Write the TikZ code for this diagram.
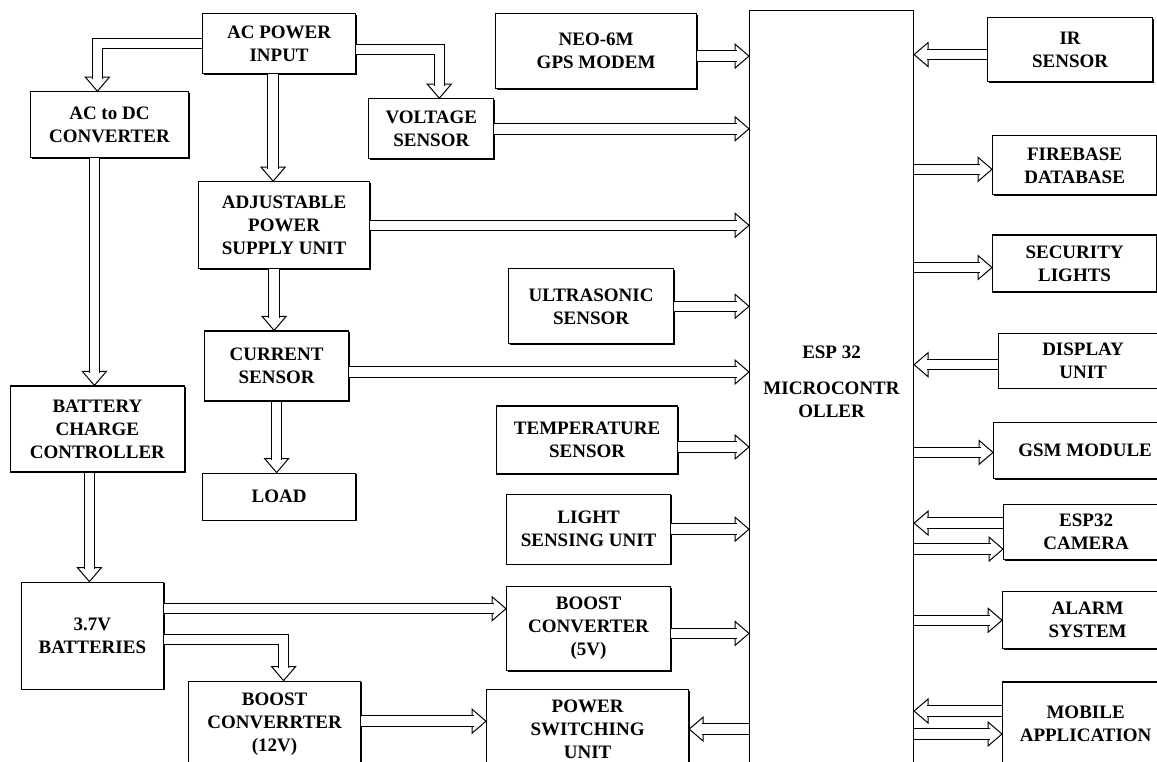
\documentclass[tikz,border=0pt]{standalone}
\usepackage{fontspec}
\setmainfont{Liberation Serif}
\usetikzlibrary{positioning, shadows, decorations.markings}

\begin{document}
\begin{tikzpicture}[
  x=1pt, y=-1pt,
  lbl/.style={font=\fontsize{19}{23}\selectfont\bfseries, align=center},
  blk/.style={lbl, draw, line width=1.2pt, fill=white, inner sep=2pt,
              drop shadow={shadow xshift=1.2pt, shadow yshift=-1.2pt, fill=black, opacity=1}},
  core/.style={draw, line width=1.1pt, fill=white},
  flow/.style={
    postaction={decorate, decoration={markings, mark=at position 1 with {
      \draw[line width=1pt, fill=white] (0,0) -- (-14pt,12pt) -- (-14pt,-12pt) -- cycle;}}},
    postaction={draw, line width=1pt, double=white, double distance=9.5pt, shorten >=12.5pt}}
]
  \useasboundingbox (0,0) rectangle (1157,761);
  \clip (0,0) rectangle (1157,761);

  \node[blk, minimum width=153pt, minimum height=60pt, anchor=north west] (acin) at (202,13) {AC POWER\\INPUT};
  \node[blk, minimum width=158pt, minimum height=66pt, below left=17pt and 13pt of acin] (acdc) {AC to DC\\CONVERTER};
  \node[blk, minimum width=125pt, minimum height=60pt, below right=24pt and 12pt of acin] (volt) {VOLTAGE\\SENSOR};
  \node[blk, minimum width=171pt, minimum height=87pt, below=107pt of acin.south west, anchor=north west, xshift=-4pt] (adj) {ADJUSTABLE\\POWER\\SUPPLY UNIT};
  \node[blk, minimum width=144pt, minimum height=70pt, below=61pt of adj.south west, anchor=north west, xshift=6pt] (cur) {CURRENT\\SENSOR};
  \node[blk, minimum width=153pt, minimum height=47pt, below=71pt of cur.south west, anchor=north west, xshift=-2pt] (load) {LOAD};
  \node[blk, minimum width=174pt, minimum height=86pt, below=227pt of acdc.south west, anchor=north west, xshift=-20pt] (bcc) {BATTERY\\CHARGE\\CONTROLLER};
  \node[blk, minimum width=142pt, minimum height=107pt, below=109pt of bcc.south west, anchor=north west, xshift=11pt] (bat) {3.7V\\BATTERIES};
  \node[blk, minimum width=172pt, minimum height=86pt, below right=99pt and 24pt of bat.north east] (b12) {BOOST\\CONVERRTER\\(12V)};

  \node[blk, minimum width=201pt, minimum height=75pt, anchor=north west] (gps) at (495,13) {NEO-6M\\GPS MODEM};
  \node[blk, minimum width=165pt, minimum height=75pt, below=179pt of gps.south west, anchor=north west, xshift=13pt] (ultra) {ULTRASONIC\\SENSOR};
  \node[blk, minimum width=181pt, minimum height=68pt, below=61pt of ultra.south west, anchor=north west, xshift=-12pt] (temp) {TEMPERATURE\\SENSOR};
  \node[blk, minimum width=164pt, minimum height=70pt, below=19pt of temp.south west, anchor=north west, xshift=10pt] (light) {LIGHT\\SENSING UNIT};
  \node[blk, minimum width=164pt, minimum height=84pt, below=21pt of light.south west, anchor=north west] (b5) {BOOST\\CONVERTER\\(5V)};
  \node[blk, minimum width=202pt, minimum height=79pt, below=18pt of b5.south west, anchor=north west, xshift=-20pt] (psu) {POWER\\SWITCHING\\UNIT};

  \node[core, minimum width=164pt, minimum height=790pt, anchor=north west] (mcu) at (749,10) {};
  \node[lbl] (mcutxt) at (mcu.north |- 0,382) {ESP 32\\[13pt]MICROCONTR\\OLLER};

  \node[blk, minimum width=165pt, minimum height=64pt, anchor=north west] (ir) at (987,17) {IR\\SENSOR};
  \node[blk, minimum width=164pt, minimum height=59pt, below=53pt of ir.south west, anchor=north west, xshift=5pt] (fb) {FIREBASE\\DATABASE};
  \node[blk, minimum width=164pt, minimum height=57pt, below=39pt of fb.south west, anchor=north west] (sec) {SECURITY\\LIGHTS};
  \node[blk, minimum width=169pt, minimum height=55pt, below=40pt of sec.south west, anchor=north west, xshift=6pt] (disp) {DISPLAY\\UNIT};
  \node[blk, minimum width=183pt, minimum height=56pt, below=33pt of disp.south west, anchor=north west, xshift=-5pt] (gsm) {GSM MODULE};
  \node[blk, minimum width=165pt, minimum height=55pt, below=25pt of gsm.south west, anchor=north west, xshift=10pt] (cam) {ESP32\\CAMERA};
  \node[blk, minimum width=170pt, minimum height=57pt, below=31pt of cam.south west, anchor=north west, xshift=-1pt] (alarm) {ALARM\\SYSTEM};
  \node[blk, minimum width=166pt, minimum height=84pt, below=32pt of alarm.south west, anchor=north west] (mob) {MOBILE\\APPLICATION};

  \path[flow] (acin.west) -| ([xshift=-12pt]acdc.north);
  \path[flow] ([yshift=-6pt]acin.east) -| ([xshift=8pt]volt.north);
  \path[flow] ([xshift=-6pt]acin.south) -- ([xshift=-6pt]acin.south |- adj.north);
  \path[flow] ([xshift=-15pt]acdc.south) -- ([xshift=-15pt]acdc.south |- bcc.north);
  \path[flow] ([xshift=-8pt]bcc.south) -- ([xshift=-8pt]bcc.south |- bat.north);
  \path[flow] ([xshift=-10pt]adj.south) -- ([xshift=-10pt]adj.south |- cur.north);
  \path[flow] (cur.south) -- (cur.south |- load.north);
  \path[flow] ([yshift=27pt]bat.east) -- ([yshift=27pt]bat.east -| b5.west);
  \path[flow] ([yshift=-4pt]bat.east) -| ([xshift=9pt]b12.north);
  \path[flow] ([yshift=3pt]b12.east) -- ([yshift=3pt]b12.east -| psu.west);

  \path[flow] ([yshift=-5pt]gps.east) -- ([yshift=-5pt]gps.east -| mcu.west);
  \path[flow] (volt.east) -- (volt.east -| mcu.west);
  \path[flow] (adj.east) -- (adj.east -| mcu.west);
  \path[flow] (ultra.east) -- (ultra.east -| mcu.west);
  \path[flow] ([yshift=-6pt]cur.east) -- ([yshift=-6pt]cur.east -| mcu.west);
  \path[flow] ([yshift=-7pt]temp.east) -- ([yshift=-7pt]temp.east -| mcu.west);
  \path[flow] (light.east) -- (light.east -| mcu.west);
  \path[flow] ([yshift=-5pt]b5.east) -- ([yshift=-5pt]b5.east -| mcu.west);
  \path[flow] (psu.east -| mcu.west) -- (psu.east);

  \path[flow] ([yshift=-5pt]ir.west) -- ([yshift=-5pt]ir.west -| mcu.east);
  \path[flow] ([yshift=-4pt]fb.west -| mcu.east) -- ([yshift=-4pt]fb.west);
  \path[flow] ([yshift=-4pt]sec.west -| mcu.east) -- ([yshift=-4pt]sec.west);
  \path[flow] ([yshift=-4pt]disp.west) -- ([yshift=-4pt]disp.west -| mcu.east);
  \path[flow] ([yshift=-2pt]gsm.west -| mcu.east) -- ([yshift=-2pt]gsm.west);
  \path[flow] ([yshift=9pt]cam.west) -- ([yshift=9pt]cam.west -| mcu.east);
  \path[flow] ([yshift=-17pt]cam.west -| mcu.east) -- ([yshift=-17pt]cam.west);
  \path[flow] (alarm.west -| mcu.east) -- (alarm.west);
  \path[flow] ([yshift=13pt]mob.west) -- ([yshift=13pt]mob.west -| mcu.east);
  \path[flow] ([yshift=-10pt]mob.west -| mcu.east) -- ([yshift=-10pt]mob.west);
\end{tikzpicture}
\end{document}
